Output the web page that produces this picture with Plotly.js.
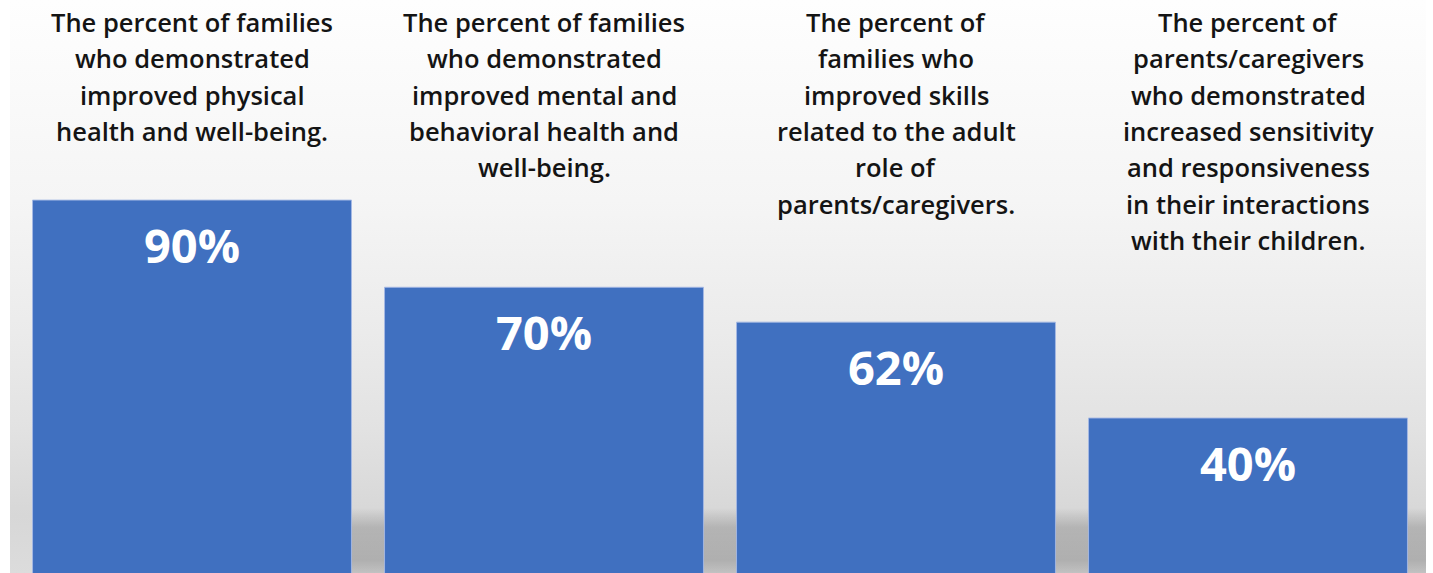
<!DOCTYPE html>
<html>
<head>
<meta charset="utf-8">
<script src="https://cdn.plot.ly/plotly-3.0.1.min.js"></script>
<style>
  html, body { margin: 0; padding: 0; background: #ffffff; width: 1433px; height: 573px; overflow: hidden; }
  #wrap { position: relative; width: 1433px; height: 573px; }
  #panel { position: absolute; left: 10px; top: 0; width: 1416px; height: 573px;
    background: linear-gradient(to bottom, #fefefe 0%, #f5f5f5 35%, #ebebeb 58%, #e2e2e2 75%, #d7d7d7 90%, #dcdcdc 100%); }
  #shadow { position: absolute; left: 33px; right: 7px; top: 508px; bottom: 0;
    background: linear-gradient(to bottom, rgba(0,0,0,0) 0%, rgba(0,0,0,0.17) 30%, rgba(0,0,0,0.2) 80%, rgba(0,0,0,0.12) 100%); }
  #chart { position: absolute; left: 0; top: 0; width: 1433px; height: 573px; }
</style>
</head>
<body>
<div id="wrap">
  <div id="panel"></div>
  <div id="shadow"></div>
  <div id="chart"></div>
</div>
<script>
const categories = [
  "The percent of families<br>who demonstrated<br>improved physical<br>health and well-being.",
  "The percent of families<br>who demonstrated<br>improved mental and<br>behavioral health and<br>well-being.",
  "The percent of<br>families who<br>improved skills<br>related to the adult<br>role of<br>parents/caregivers.",
  "The percent of<br>parents/caregivers<br>who demonstrated<br>increased sensitivity<br>and responsiveness<br>in their interactions<br>with their children."
];
const values = [90, 70, 62, 40];
const valueLabels = ["90%", "70%", "62%", "40%"];

const xs = categories.map((c, i) => i);

const trace = {
  type: "bar",
  x: xs,
  y: values,
  marker: { color: "#4070c0", line: { color: "rgba(165,185,228,0.9)", width: 1 } },
  hoverinfo: "skip",
  cliponaxis: true
};

const annotations = [];
categories.forEach((c, i) => {
  c.split("<br>").forEach((line, j) => {
    annotations.push({
      x: xs[i], y: 1, xref: "x", yref: "paper",
      xanchor: "center", yanchor: "middle",
      yshift: -(22 + 36.3 * j),
      text: line, showarrow: false,
      font: { family: "'Open Sans', sans-serif", size: 25.5, color: "#141414", weight: 600 }
    });
  });
  annotations.push({
    x: xs[i], y: values[i], xref: "x", yref: "y",
    xanchor: "center", yanchor: "middle", yshift: -45,
    text: valueLabels[i], showarrow: false,
    font: { family: "'Open Sans', sans-serif", size: 47, color: "#ffffff", weight: 700 }
  });
});

const layout = {
  width: 1433, height: 573,
  margin: { l: 16, r: 9, t: 0, b: 0, pad: 0 },
  paper_bgcolor: "rgba(0,0,0,0)",
  plot_bgcolor: "rgba(0,0,0,0)",
  showlegend: false,
  bargap: 0.094,
  xaxis: { range: [-0.5, 3.5], visible: false, fixedrange: true },
  yaxis: { range: [4.45, 135.9], visible: false, fixedrange: true },
  annotations: annotations
};

Plotly.newPlot("chart", [trace], layout, { displayModeBar: false, staticPlot: true });
</script>
</body>
</html>
